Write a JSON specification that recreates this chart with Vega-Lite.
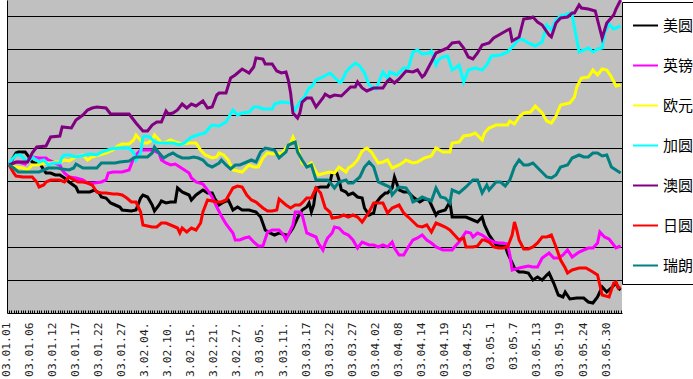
{
"$schema":"https://vega.github.io/schema/vega-lite/v6.json",
"width":615,"height":313,
"autosize":{"type":"none"},
"padding":{"left":7,"top":0,"right":71,"bottom":66},
"background":"white",
"config":{"view":{"fill":"#C0C0C0","stroke":null}},
"data":{"values":[
{"s":"美圆","d":0,"v":148},{"s":"美圆","d":3,"v":160},{"s":"美圆","d":4,"v":161},{"s":"美圆","d":7,"v":161},{"s":"美圆","d":8,"v":158},{"s":"美圆","d":10,"v":151},{"s":"美圆","d":12,"v":149},{"s":"美圆","d":13,"v":151},{"s":"美圆","d":15,"v":143},{"s":"美圆","d":16,"v":140},{"s":"美圆","d":18,"v":140},{"s":"美圆","d":20,"v":138},{"s":"美圆","d":22,"v":138},{"s":"美圆","d":24,"v":135},{"s":"美圆","d":26,"v":131},{"s":"美圆","d":29,"v":126},{"s":"美圆","d":30,"v":121},{"s":"美圆","d":32,"v":121},{"s":"美圆","d":35,"v":121},{"s":"美圆","d":37,"v":123},{"s":"美圆","d":39,"v":120},{"s":"美圆","d":40,"v":116},{"s":"美圆","d":42,"v":115},{"s":"美圆","d":44,"v":110},{"s":"美圆","d":46,"v":108},{"s":"美圆","d":48,"v":106},{"s":"美圆","d":49,"v":103},{"s":"美圆","d":53,"v":102},{"s":"美圆","d":55,"v":103},{"s":"美圆","d":57,"v":115},{"s":"美圆","d":58,"v":118},{"s":"美圆","d":60,"v":116},{"s":"美圆","d":62,"v":108},{"s":"美圆","d":63,"v":102},{"s":"美圆","d":65,"v":108},{"s":"美圆","d":66,"v":112},{"s":"美圆","d":68,"v":110},{"s":"美圆","d":70,"v":111},{"s":"美圆","d":72,"v":111},{"s":"美圆","d":73,"v":125},{"s":"美圆","d":75,"v":121},{"s":"美圆","d":76,"v":120},{"s":"美圆","d":78,"v":118},{"s":"美圆","d":79,"v":113},{"s":"美圆","d":81,"v":118},{"s":"美圆","d":84,"v":123},{"s":"美圆","d":86,"v":120},{"s":"美圆","d":88,"v":120},{"s":"美圆","d":89,"v":115},{"s":"美圆","d":91,"v":108},{"s":"美圆","d":93,"v":111},{"s":"美圆","d":95,"v":113},{"s":"美圆","d":97,"v":103},{"s":"美圆","d":99,"v":106},{"s":"美圆","d":101,"v":103},{"s":"美圆","d":104,"v":103},{"s":"美圆","d":107,"v":101},{"s":"美圆","d":109,"v":96},{"s":"美圆","d":111,"v":83},{"s":"美圆","d":113,"v":80},{"s":"美圆","d":115,"v":78},{"s":"美圆","d":117,"v":80},{"s":"美圆","d":120,"v":78},{"s":"美圆","d":121,"v":78},{"s":"美圆","d":123,"v":85},{"s":"美圆","d":125,"v":95},{"s":"美圆","d":127,"v":103},{"s":"美圆","d":129,"v":106},{"s":"美圆","d":130,"v":110},{"s":"美圆","d":131,"v":101},{"s":"美圆","d":132,"v":108},{"s":"美圆","d":133,"v":125},{"s":"美圆","d":135,"v":126},{"s":"美圆","d":138,"v":126},{"s":"美圆","d":139,"v":130},{"s":"美圆","d":140,"v":140},{"s":"美圆","d":142,"v":140},{"s":"美圆","d":143,"v":133},{"s":"美圆","d":144,"v":123},{"s":"美圆","d":146,"v":121},{"s":"美圆","d":147,"v":118},{"s":"美圆","d":149,"v":120},{"s":"美圆","d":150,"v":118},{"s":"美圆","d":151,"v":116},{"s":"美圆","d":153,"v":115},{"s":"美圆","d":154,"v":105},{"s":"美圆","d":156,"v":98},{"s":"美圆","d":158,"v":100},{"s":"美圆","d":159,"v":110},{"s":"美圆","d":161,"v":116},{"s":"美圆","d":163,"v":120},{"s":"美圆","d":164,"v":120},{"s":"美圆","d":166,"v":125},{"s":"美圆","d":167,"v":136},{"s":"美圆","d":169,"v":123},{"s":"美圆","d":171,"v":121},{"s":"美圆","d":173,"v":121},{"s":"美圆","d":175,"v":116},{"s":"美圆","d":178,"v":111},{"s":"美圆","d":180,"v":114},{"s":"美圆","d":182,"v":113},{"s":"美圆","d":185,"v":98},{"s":"美圆","d":186,"v":101},{"s":"美圆","d":189,"v":103},{"s":"美圆","d":191,"v":111},{"s":"美圆","d":192,"v":96},{"s":"美圆","d":195,"v":96},{"s":"美圆","d":198,"v":96},{"s":"美圆","d":201,"v":93},{"s":"美圆","d":203,"v":91},{"s":"美圆","d":205,"v":96},{"s":"美圆","d":206,"v":88},{"s":"美圆","d":208,"v":78},{"s":"美圆","d":209,"v":75},{"s":"美圆","d":211,"v":68},{"s":"美圆","d":213,"v":67},{"s":"美圆","d":215,"v":67},{"s":"美圆","d":216,"v":60},{"s":"美圆","d":218,"v":50},{"s":"美圆","d":219,"v":45},{"s":"美圆","d":221,"v":41},{"s":"美圆","d":223,"v":41},{"s":"美圆","d":225,"v":40},{"s":"美圆","d":227,"v":33},{"s":"美圆","d":229,"v":36},{"s":"美圆","d":231,"v":33},{"s":"美圆","d":233,"v":38},{"s":"美圆","d":234,"v":40},{"s":"美圆","d":236,"v":30},{"s":"美圆","d":238,"v":18},{"s":"美圆","d":240,"v":16},{"s":"美圆","d":241,"v":21},{"s":"美圆","d":243,"v":14},{"s":"美圆","d":246,"v":15},{"s":"美圆","d":249,"v":15},{"s":"美圆","d":251,"v":11},{"s":"美圆","d":253,"v":10},{"s":"美圆","d":255,"v":16},{"s":"美圆","d":257,"v":26},{"s":"美圆","d":259,"v":21},{"s":"美圆","d":261,"v":25},{"s":"美圆","d":263,"v":30},{"s":"美圆","d":264,"v":25},{"s":"美圆","d":265,"v":23},
{"s":"英镑","d":0,"v":148},{"s":"英镑","d":2,"v":150},{"s":"英镑","d":4,"v":151},{"s":"英镑","d":7,"v":149},{"s":"英镑","d":9,"v":155},{"s":"英镑","d":10,"v":156},{"s":"英镑","d":13,"v":155},{"s":"英镑","d":16,"v":155},{"s":"英镑","d":17,"v":153},{"s":"英镑","d":20,"v":150},{"s":"英镑","d":22,"v":148},{"s":"英镑","d":23,"v":143},{"s":"英镑","d":24,"v":140},{"s":"英镑","d":26,"v":136},{"s":"英镑","d":29,"v":135},{"s":"英镑","d":32,"v":133},{"s":"英镑","d":34,"v":130},{"s":"英镑","d":37,"v":130},{"s":"英镑","d":40,"v":131},{"s":"英镑","d":42,"v":133},{"s":"英镑","d":43,"v":140},{"s":"英镑","d":45,"v":141},{"s":"英镑","d":49,"v":141},{"s":"英镑","d":52,"v":143},{"s":"英镑","d":54,"v":155},{"s":"英镑","d":55,"v":158},{"s":"英镑","d":57,"v":163},{"s":"英镑","d":60,"v":163},{"s":"英镑","d":62,"v":163},{"s":"英镑","d":65,"v":160},{"s":"英镑","d":66,"v":153},{"s":"英镑","d":68,"v":150},{"s":"英镑","d":70,"v":148},{"s":"英镑","d":72,"v":149},{"s":"英镑","d":74,"v":146},{"s":"英镑","d":76,"v":143},{"s":"英镑","d":78,"v":140},{"s":"英镑","d":79,"v":135},{"s":"英镑","d":81,"v":131},{"s":"英镑","d":84,"v":129},{"s":"英镑","d":86,"v":123},{"s":"英镑","d":88,"v":116},{"s":"英镑","d":90,"v":106},{"s":"英镑","d":92,"v":97},{"s":"英镑","d":94,"v":89},{"s":"英镑","d":97,"v":80},{"s":"英镑","d":98,"v":73},{"s":"英镑","d":100,"v":73},{"s":"英镑","d":102,"v":75},{"s":"英镑","d":104,"v":76},{"s":"英镑","d":106,"v":71},{"s":"英镑","d":108,"v":67},{"s":"英镑","d":110,"v":67},{"s":"英镑","d":112,"v":81},{"s":"英镑","d":114,"v":83},{"s":"英镑","d":117,"v":83},{"s":"英镑","d":119,"v":78},{"s":"英镑","d":120,"v":73},{"s":"英镑","d":123,"v":88},{"s":"英镑","d":124,"v":101},{"s":"英镑","d":126,"v":101},{"s":"英镑","d":127,"v":98},{"s":"英镑","d":129,"v":80},{"s":"英镑","d":131,"v":78},{"s":"英镑","d":133,"v":76},{"s":"英镑","d":134,"v":70},{"s":"英镑","d":136,"v":63},{"s":"英镑","d":137,"v":70},{"s":"英镑","d":138,"v":75},{"s":"英镑","d":140,"v":80},{"s":"英镑","d":141,"v":86},{"s":"英镑","d":143,"v":85},{"s":"英镑","d":145,"v":80},{"s":"英镑","d":147,"v":78},{"s":"英镑","d":149,"v":73},{"s":"英镑","d":151,"v":65},{"s":"英镑","d":153,"v":71},{"s":"英镑","d":156,"v":68},{"s":"英镑","d":158,"v":68},{"s":"英镑","d":160,"v":66},{"s":"英镑","d":162,"v":68},{"s":"英镑","d":164,"v":66},{"s":"英镑","d":166,"v":71},{"s":"英镑","d":167,"v":65},{"s":"英镑","d":169,"v":58},{"s":"英镑","d":171,"v":58},{"s":"英镑","d":173,"v":66},{"s":"英镑","d":175,"v":73},{"s":"英镑","d":177,"v":75},{"s":"英镑","d":179,"v":78},{"s":"英镑","d":181,"v":73},{"s":"英镑","d":183,"v":70},{"s":"英镑","d":185,"v":66},{"s":"英镑","d":188,"v":63},{"s":"英镑","d":190,"v":63},{"s":"英镑","d":192,"v":63},{"s":"英镑","d":193,"v":66},{"s":"英镑","d":195,"v":71},{"s":"英镑","d":198,"v":81},{"s":"英镑","d":200,"v":80},{"s":"英镑","d":201,"v":76},{"s":"英镑","d":203,"v":80},{"s":"英镑","d":205,"v":78},{"s":"英镑","d":208,"v":73},{"s":"英镑","d":210,"v":71},{"s":"英镑","d":212,"v":70},{"s":"英镑","d":214,"v":70},{"s":"英镑","d":216,"v":69},{"s":"英镑","d":217,"v":58},{"s":"英镑","d":218,"v":43},{"s":"英镑","d":221,"v":45},{"s":"英镑","d":223,"v":46},{"s":"英镑","d":225,"v":47},{"s":"英镑","d":227,"v":46},{"s":"英镑","d":229,"v":46},{"s":"英镑","d":231,"v":55},{"s":"英镑","d":234,"v":60},{"s":"英镑","d":236,"v":55},{"s":"英镑","d":238,"v":55},{"s":"英镑","d":240,"v":58},{"s":"英镑","d":242,"v":63},{"s":"英镑","d":244,"v":56},{"s":"英镑","d":247,"v":61},{"s":"英镑","d":249,"v":63},{"s":"英镑","d":251,"v":65},{"s":"英镑","d":253,"v":65},{"s":"英镑","d":255,"v":70},{"s":"英镑","d":256,"v":81},{"s":"英镑","d":258,"v":76},{"s":"英镑","d":260,"v":74},{"s":"英镑","d":263,"v":65},{"s":"英镑","d":265,"v":67},
{"s":"欧元","d":0,"v":148},{"s":"欧元","d":3,"v":146},{"s":"欧元","d":6,"v":145},{"s":"欧元","d":8,"v":143},{"s":"欧元","d":10,"v":148},{"s":"欧元","d":12,"v":148},{"s":"欧元","d":16,"v":150},{"s":"欧元","d":18,"v":150},{"s":"欧元","d":20,"v":151},{"s":"欧元","d":22,"v":151},{"s":"欧元","d":24,"v":153},{"s":"欧元","d":26,"v":152},{"s":"欧元","d":29,"v":156},{"s":"欧元","d":32,"v":158},{"s":"欧元","d":34,"v":153},{"s":"欧元","d":36,"v":156},{"s":"欧元","d":39,"v":158},{"s":"欧元","d":42,"v":160},{"s":"欧元","d":45,"v":163},{"s":"欧元","d":47,"v":167},{"s":"欧元","d":49,"v":169},{"s":"欧元","d":52,"v":169},{"s":"欧元","d":54,"v":173},{"s":"欧元","d":55,"v":178},{"s":"欧元","d":58,"v":170},{"s":"欧元","d":60,"v":170},{"s":"欧元","d":62,"v":173},{"s":"欧元","d":63,"v":178},{"s":"欧元","d":65,"v":173},{"s":"欧元","d":66,"v":170},{"s":"欧元","d":68,"v":171},{"s":"欧元","d":70,"v":173},{"s":"欧元","d":72,"v":171},{"s":"欧元","d":75,"v":169},{"s":"欧元","d":78,"v":170},{"s":"欧元","d":81,"v":170},{"s":"欧元","d":83,"v":163},{"s":"欧元","d":85,"v":158},{"s":"欧元","d":88,"v":155},{"s":"欧元","d":90,"v":156},{"s":"欧元","d":91,"v":160},{"s":"欧元","d":93,"v":158},{"s":"欧元","d":95,"v":153},{"s":"欧元","d":97,"v":143},{"s":"欧元","d":99,"v":142},{"s":"欧元","d":101,"v":141},{"s":"欧元","d":104,"v":148},{"s":"欧元","d":106,"v":146},{"s":"欧元","d":108,"v":146},{"s":"欧元","d":110,"v":155},{"s":"欧元","d":112,"v":160},{"s":"欧元","d":114,"v":159},{"s":"欧元","d":117,"v":160},{"s":"欧元","d":118,"v":159},{"s":"欧元","d":120,"v":165},{"s":"欧元","d":122,"v":170},{"s":"欧元","d":123,"v":176},{"s":"欧元","d":125,"v":166},{"s":"欧元","d":126,"v":158},{"s":"欧元","d":127,"v":150},{"s":"欧元","d":129,"v":147},{"s":"欧元","d":131,"v":150},{"s":"欧元","d":133,"v":141},{"s":"欧元","d":134,"v":138},{"s":"欧元","d":137,"v":140},{"s":"欧元","d":139,"v":141},{"s":"欧元","d":141,"v":140},{"s":"欧元","d":143,"v":146},{"s":"欧元","d":146,"v":141},{"s":"欧元","d":147,"v":145},{"s":"欧元","d":149,"v":148},{"s":"欧元","d":151,"v":153},{"s":"欧元","d":153,"v":162},{"s":"欧元","d":155,"v":165},{"s":"欧元","d":157,"v":161},{"s":"欧元","d":160,"v":150},{"s":"欧元","d":162,"v":151},{"s":"欧元","d":164,"v":153},{"s":"欧元","d":166,"v":145},{"s":"欧元","d":169,"v":148},{"s":"欧元","d":171,"v":151},{"s":"欧元","d":172,"v":153},{"s":"欧元","d":175,"v":150},{"s":"欧元","d":177,"v":151},{"s":"欧元","d":180,"v":155},{"s":"欧元","d":183,"v":157},{"s":"欧元","d":185,"v":165},{"s":"欧元","d":188,"v":161},{"s":"欧元","d":191,"v":161},{"s":"欧元","d":192,"v":170},{"s":"欧元","d":195,"v":171},{"s":"欧元","d":197,"v":177},{"s":"欧元","d":200,"v":178},{"s":"欧元","d":202,"v":180},{"s":"欧元","d":205,"v":173},{"s":"欧元","d":206,"v":180},{"s":"欧元","d":208,"v":185},{"s":"欧元","d":211,"v":188},{"s":"欧元","d":216,"v":188},{"s":"欧元","d":217,"v":192},{"s":"欧元","d":219,"v":189},{"s":"欧元","d":221,"v":196},{"s":"欧元","d":223,"v":200},{"s":"欧元","d":226,"v":201},{"s":"欧元","d":228,"v":207},{"s":"欧元","d":231,"v":200},{"s":"欧元","d":233,"v":192},{"s":"欧元","d":235,"v":190},{"s":"欧元","d":237,"v":197},{"s":"欧元","d":239,"v":208},{"s":"欧元","d":241,"v":209},{"s":"欧元","d":243,"v":210},{"s":"欧元","d":245,"v":216},{"s":"欧元","d":246,"v":226},{"s":"欧元","d":248,"v":235},{"s":"欧元","d":251,"v":236},{"s":"欧元","d":253,"v":243},{"s":"欧元","d":255,"v":238},{"s":"欧元","d":257,"v":244},{"s":"欧元","d":259,"v":243},{"s":"欧元","d":261,"v":236},{"s":"欧元","d":263,"v":227},{"s":"欧元","d":265,"v":228},
{"s":"加圆","d":0,"v":148},{"s":"加圆","d":1,"v":153},{"s":"加圆","d":3,"v":158},{"s":"加圆","d":5,"v":158},{"s":"加圆","d":7,"v":153},{"s":"加圆","d":9,"v":153},{"s":"加圆","d":10,"v":156},{"s":"加圆","d":13,"v":151},{"s":"加圆","d":15,"v":153},{"s":"加圆","d":17,"v":148},{"s":"加圆","d":19,"v":150},{"s":"加圆","d":22,"v":150},{"s":"加圆","d":23,"v":156},{"s":"加圆","d":24,"v":158},{"s":"加圆","d":26,"v":158},{"s":"加圆","d":29,"v":156},{"s":"加圆","d":31,"v":157},{"s":"加圆","d":33,"v":158},{"s":"加圆","d":35,"v":159},{"s":"加圆","d":38,"v":158},{"s":"加圆","d":40,"v":161},{"s":"加圆","d":44,"v":164},{"s":"加圆","d":47,"v":165},{"s":"加圆","d":52,"v":165},{"s":"加圆","d":54,"v":160},{"s":"加圆","d":55,"v":153},{"s":"加圆","d":57,"v":160},{"s":"加圆","d":58,"v":176},{"s":"加圆","d":59,"v":177},{"s":"加圆","d":61,"v":176},{"s":"加圆","d":63,"v":171},{"s":"加圆","d":65,"v":170},{"s":"加圆","d":68,"v":170},{"s":"加圆","d":71,"v":170},{"s":"加圆","d":74,"v":168},{"s":"加圆","d":76,"v":170},{"s":"加圆","d":79,"v":176},{"s":"加圆","d":83,"v":179},{"s":"加圆","d":85,"v":180},{"s":"加圆","d":87,"v":186},{"s":"加圆","d":88,"v":188},{"s":"加圆","d":91,"v":187},{"s":"加圆","d":94,"v":191},{"s":"加圆","d":95,"v":195},{"s":"加圆","d":97,"v":203},{"s":"加圆","d":99,"v":198},{"s":"加圆","d":101,"v":200},{"s":"加圆","d":104,"v":201},{"s":"加圆","d":106,"v":206},{"s":"加圆","d":108,"v":206},{"s":"加圆","d":110,"v":204},{"s":"加圆","d":114,"v":204},{"s":"加圆","d":115,"v":209},{"s":"加圆","d":118,"v":211},{"s":"加圆","d":122,"v":210},{"s":"加圆","d":124,"v":203},{"s":"加圆","d":126,"v":211},{"s":"加圆","d":128,"v":216},{"s":"加圆","d":130,"v":225},{"s":"加圆","d":131,"v":226},{"s":"加圆","d":133,"v":233},{"s":"加圆","d":136,"v":236},{"s":"加圆","d":139,"v":240},{"s":"加圆","d":140,"v":238},{"s":"加圆","d":143,"v":231},{"s":"加圆","d":144,"v":231},{"s":"加圆","d":146,"v":241},{"s":"加圆","d":148,"v":246},{"s":"加圆","d":150,"v":250},{"s":"加圆","d":152,"v":247},{"s":"加圆","d":154,"v":240},{"s":"加圆","d":156,"v":228},{"s":"加圆","d":158,"v":225},{"s":"加圆","d":159,"v":224},{"s":"加圆","d":162,"v":241},{"s":"加圆","d":164,"v":235},{"s":"加圆","d":165,"v":241},{"s":"加圆","d":168,"v":238},{"s":"加圆","d":171,"v":245},{"s":"加圆","d":173,"v":245},{"s":"加圆","d":175,"v":261},{"s":"加圆","d":177,"v":263},{"s":"加圆","d":179,"v":259},{"s":"加圆","d":182,"v":260},{"s":"加圆","d":183,"v":262},{"s":"加圆","d":185,"v":248},{"s":"加圆","d":186,"v":253},{"s":"加圆","d":188,"v":256},{"s":"加圆","d":190,"v":257},{"s":"加圆","d":192,"v":243},{"s":"加圆","d":194,"v":246},{"s":"加圆","d":195,"v":248},{"s":"加圆","d":197,"v":231},{"s":"加圆","d":199,"v":243},{"s":"加圆","d":202,"v":245},{"s":"加圆","d":205,"v":243},{"s":"加圆","d":207,"v":248},{"s":"加圆","d":209,"v":257},{"s":"加圆","d":213,"v":258},{"s":"加圆","d":216,"v":261},{"s":"加圆","d":218,"v":266},{"s":"加圆","d":221,"v":274},{"s":"加圆","d":223,"v":273},{"s":"加圆","d":225,"v":270},{"s":"加圆","d":228,"v":267},{"s":"加圆","d":231,"v":271},{"s":"加圆","d":233,"v":288},{"s":"加圆","d":235,"v":283},{"s":"加圆","d":237,"v":293},{"s":"加圆","d":239,"v":297},{"s":"加圆","d":241,"v":298},{"s":"加圆","d":243,"v":300},{"s":"加圆","d":244,"v":298},{"s":"加圆","d":247,"v":261},{"s":"加圆","d":249,"v":263},{"s":"加圆","d":251,"v":265},{"s":"加圆","d":253,"v":261},{"s":"加圆","d":255,"v":264},{"s":"加圆","d":257,"v":265},{"s":"加圆","d":258,"v":280},{"s":"加圆","d":260,"v":289},{"s":"加圆","d":262,"v":284},{"s":"加圆","d":265,"v":287},
{"s":"澳圆","d":0,"v":148},{"s":"澳圆","d":3,"v":151},{"s":"澳圆","d":8,"v":151},{"s":"澳圆","d":9,"v":155},{"s":"澳圆","d":10,"v":160},{"s":"澳圆","d":12,"v":166},{"s":"澳圆","d":16,"v":167},{"s":"澳圆","d":18,"v":176},{"s":"澳圆","d":22,"v":177},{"s":"澳圆","d":23,"v":186},{"s":"澳圆","d":27,"v":185},{"s":"澳圆","d":29,"v":193},{"s":"澳圆","d":32,"v":198},{"s":"澳圆","d":34,"v":203},{"s":"澳圆","d":36,"v":205},{"s":"澳圆","d":38,"v":206},{"s":"澳圆","d":42,"v":205},{"s":"澳圆","d":44,"v":199},{"s":"澳圆","d":52,"v":199},{"s":"澳圆","d":53,"v":196},{"s":"澳圆","d":55,"v":190},{"s":"澳圆","d":58,"v":182},{"s":"澳圆","d":60,"v":182},{"s":"澳圆","d":62,"v":188},{"s":"澳圆","d":64,"v":191},{"s":"澳圆","d":66,"v":191},{"s":"澳圆","d":68,"v":202},{"s":"澳圆","d":69,"v":199},{"s":"澳圆","d":71,"v":200},{"s":"澳圆","d":73,"v":203},{"s":"澳圆","d":75,"v":209},{"s":"澳圆","d":77,"v":205},{"s":"澳圆","d":79,"v":209},{"s":"澳圆","d":81,"v":207},{"s":"澳圆","d":84,"v":212},{"s":"澳圆","d":86,"v":205},{"s":"澳圆","d":88,"v":206},{"s":"澳圆","d":90,"v":218},{"s":"澳圆","d":91,"v":220},{"s":"澳圆","d":94,"v":220},{"s":"澳圆","d":96,"v":235},{"s":"澳圆","d":98,"v":238},{"s":"澳圆","d":101,"v":244},{"s":"澳圆","d":104,"v":240},{"s":"澳圆","d":106,"v":246},{"s":"澳圆","d":107,"v":255},{"s":"澳圆","d":110,"v":254},{"s":"澳圆","d":111,"v":249},{"s":"澳圆","d":114,"v":249},{"s":"澳圆","d":116,"v":242},{"s":"澳圆","d":118,"v":240},{"s":"澳圆","d":120,"v":241},{"s":"澳圆","d":121,"v":233},{"s":"澳圆","d":122,"v":220},{"s":"澳圆","d":123,"v":200},{"s":"澳圆","d":125,"v":195},{"s":"澳圆","d":126,"v":200},{"s":"澳圆","d":127,"v":211},{"s":"澳圆","d":129,"v":215},{"s":"澳圆","d":131,"v":215},{"s":"澳圆","d":133,"v":206},{"s":"澳圆","d":136,"v":215},{"s":"澳圆","d":137,"v":219},{"s":"澳圆","d":139,"v":216},{"s":"澳圆","d":141,"v":218},{"s":"澳圆","d":144,"v":217},{"s":"澳圆","d":148,"v":226},{"s":"澳圆","d":150,"v":226},{"s":"澳圆","d":151,"v":231},{"s":"澳圆","d":153,"v":225},{"s":"澳圆","d":155,"v":222},{"s":"澳圆","d":158,"v":225},{"s":"澳圆","d":162,"v":225},{"s":"澳圆","d":164,"v":232},{"s":"澳圆","d":165,"v":234},{"s":"澳圆","d":167,"v":230},{"s":"澳圆","d":169,"v":234},{"s":"澳圆","d":172,"v":242},{"s":"澳圆","d":175,"v":241},{"s":"澳圆","d":177,"v":243},{"s":"澳圆","d":179,"v":236},{"s":"澳圆","d":180,"v":238},{"s":"澳圆","d":183,"v":251},{"s":"澳圆","d":185,"v":260},{"s":"澳圆","d":188,"v":263},{"s":"澳圆","d":190,"v":265},{"s":"澳圆","d":192,"v":270},{"s":"澳圆","d":195,"v":271},{"s":"澳圆","d":197,"v":265},{"s":"澳圆","d":199,"v":256},{"s":"澳圆","d":201,"v":254},{"s":"澳圆","d":203,"v":260},{"s":"澳圆","d":205,"v":268},{"s":"澳圆","d":208,"v":270},{"s":"澳圆","d":210,"v":275},{"s":"澳圆","d":213,"v":279},{"s":"澳圆","d":216,"v":283},{"s":"澳圆","d":217,"v":284},{"s":"澳圆","d":218,"v":272},{"s":"澳圆","d":221,"v":276},{"s":"澳圆","d":223,"v":294},{"s":"澳圆","d":226,"v":295},{"s":"澳圆","d":227,"v":296},{"s":"澳圆","d":229,"v":291},{"s":"澳圆","d":231,"v":288},{"s":"澳圆","d":234,"v":278},{"s":"澳圆","d":235,"v":276},{"s":"澳圆","d":237,"v":290},{"s":"澳圆","d":239,"v":295},{"s":"澳圆","d":242,"v":296},{"s":"澳圆","d":244,"v":300},{"s":"澳圆","d":245,"v":300},{"s":"澳圆","d":247,"v":308},{"s":"澳圆","d":248,"v":305},{"s":"澳圆","d":251,"v":304},{"s":"澳圆","d":254,"v":302},{"s":"澳圆","d":255,"v":293},{"s":"澳圆","d":257,"v":275},{"s":"澳圆","d":259,"v":290},{"s":"澳圆","d":262,"v":298},{"s":"澳圆","d":263,"v":304},{"s":"澳圆","d":265,"v":313},
{"s":"日圆","d":0,"v":148},{"s":"日圆","d":2,"v":140},{"s":"日圆","d":3,"v":137},{"s":"日圆","d":6,"v":136},{"s":"日圆","d":8,"v":136},{"s":"日圆","d":10,"v":136},{"s":"日圆","d":12,"v":131},{"s":"日圆","d":13,"v":126},{"s":"日圆","d":15,"v":128},{"s":"日圆","d":16,"v":131},{"s":"日圆","d":18,"v":133},{"s":"日圆","d":20,"v":133},{"s":"日圆","d":22,"v":133},{"s":"日圆","d":24,"v":131},{"s":"日圆","d":26,"v":136},{"s":"日圆","d":28,"v":133},{"s":"日圆","d":30,"v":131},{"s":"日圆","d":32,"v":131},{"s":"日圆","d":34,"v":130},{"s":"日圆","d":36,"v":128},{"s":"日圆","d":38,"v":121},{"s":"日圆","d":40,"v":120},{"s":"日圆","d":42,"v":120},{"s":"日圆","d":45,"v":119},{"s":"日圆","d":47,"v":119},{"s":"日圆","d":49,"v":118},{"s":"日圆","d":51,"v":115},{"s":"日圆","d":53,"v":111},{"s":"日圆","d":55,"v":111},{"s":"日圆","d":57,"v":101},{"s":"日圆","d":58,"v":88},{"s":"日圆","d":60,"v":87},{"s":"日圆","d":62,"v":86},{"s":"日圆","d":64,"v":86},{"s":"日圆","d":66,"v":90},{"s":"日圆","d":68,"v":90},{"s":"日圆","d":71,"v":87},{"s":"日圆","d":73,"v":85},{"s":"日圆","d":74,"v":80},{"s":"日圆","d":75,"v":85},{"s":"日圆","d":77,"v":81},{"s":"日圆","d":79,"v":85},{"s":"日圆","d":81,"v":83},{"s":"日圆","d":83,"v":90},{"s":"日圆","d":84,"v":101},{"s":"日圆","d":86,"v":113},{"s":"日圆","d":88,"v":112},{"s":"日圆","d":90,"v":111},{"s":"日圆","d":92,"v":111},{"s":"日圆","d":94,"v":113},{"s":"日圆","d":97,"v":125},{"s":"日圆","d":99,"v":127},{"s":"日圆","d":101,"v":126},{"s":"日圆","d":103,"v":118},{"s":"日圆","d":105,"v":113},{"s":"日圆","d":107,"v":111},{"s":"日圆","d":110,"v":105},{"s":"日圆","d":112,"v":102},{"s":"日圆","d":114,"v":102},{"s":"日圆","d":116,"v":103},{"s":"日圆","d":117,"v":114},{"s":"日圆","d":120,"v":108},{"s":"日圆","d":122,"v":105},{"s":"日圆","d":124,"v":108},{"s":"日圆","d":126,"v":108},{"s":"日圆","d":127,"v":110},{"s":"日圆","d":129,"v":115},{"s":"日圆","d":131,"v":115},{"s":"日圆","d":133,"v":125},{"s":"日圆","d":135,"v":120},{"s":"日圆","d":137,"v":105},{"s":"日圆","d":139,"v":101},{"s":"日圆","d":140,"v":95},{"s":"日圆","d":143,"v":96},{"s":"日圆","d":145,"v":98},{"s":"日圆","d":147,"v":96},{"s":"日圆","d":149,"v":98},{"s":"日圆","d":151,"v":96},{"s":"日圆","d":153,"v":91},{"s":"日圆","d":156,"v":101},{"s":"日圆","d":158,"v":110},{"s":"日圆","d":160,"v":110},{"s":"日圆","d":162,"v":110},{"s":"日圆","d":164,"v":100},{"s":"日圆","d":166,"v":105},{"s":"日圆","d":169,"v":108},{"s":"日圆","d":171,"v":100},{"s":"日圆","d":173,"v":96},{"s":"日圆","d":177,"v":87},{"s":"日圆","d":179,"v":86},{"s":"日圆","d":181,"v":88},{"s":"日圆","d":183,"v":81},{"s":"日圆","d":185,"v":90},{"s":"日圆","d":187,"v":88},{"s":"日圆","d":189,"v":86},{"s":"日圆","d":191,"v":83},{"s":"日圆","d":193,"v":78},{"s":"日圆","d":195,"v":73},{"s":"日圆","d":197,"v":75},{"s":"日圆","d":198,"v":66},{"s":"日圆","d":201,"v":66},{"s":"日圆","d":203,"v":67},{"s":"日圆","d":205,"v":73},{"s":"日圆","d":206,"v":73},{"s":"日圆","d":208,"v":71},{"s":"日圆","d":210,"v":66},{"s":"日圆","d":212,"v":65},{"s":"日圆","d":214,"v":65},{"s":"日圆","d":216,"v":66},{"s":"日圆","d":218,"v":78},{"s":"日圆","d":219,"v":91},{"s":"日圆","d":220,"v":83},{"s":"日圆","d":221,"v":73},{"s":"日圆","d":223,"v":64},{"s":"日圆","d":225,"v":64},{"s":"日圆","d":227,"v":66},{"s":"日圆","d":229,"v":70},{"s":"日圆","d":231,"v":76},{"s":"日圆","d":233,"v":76},{"s":"日圆","d":235,"v":78},{"s":"日圆","d":237,"v":66},{"s":"日圆","d":239,"v":53},{"s":"日圆","d":241,"v":45},{"s":"日圆","d":242,"v":40},{"s":"日圆","d":244,"v":43},{"s":"日圆","d":247,"v":45},{"s":"日圆","d":250,"v":45},{"s":"日圆","d":253,"v":41},{"s":"日圆","d":255,"v":38},{"s":"日圆","d":256,"v":28},{"s":"日圆","d":257,"v":18},{"s":"日圆","d":260,"v":16},{"s":"日圆","d":262,"v":30},{"s":"日圆","d":263,"v":31},{"s":"日圆","d":264,"v":25},{"s":"日圆","d":265,"v":26},
{"s":"瑞朗","d":0,"v":148},{"s":"瑞朗","d":2,"v":145},{"s":"瑞朗","d":4,"v":141},{"s":"瑞朗","d":13,"v":141},{"s":"瑞朗","d":15,"v":143},{"s":"瑞朗","d":17,"v":145},{"s":"瑞朗","d":21,"v":145},{"s":"瑞朗","d":23,"v":144},{"s":"瑞朗","d":26,"v":143},{"s":"瑞朗","d":28,"v":145},{"s":"瑞朗","d":29,"v":149},{"s":"瑞朗","d":32,"v":145},{"s":"瑞朗","d":38,"v":145},{"s":"瑞朗","d":40,"v":150},{"s":"瑞朗","d":46,"v":150},{"s":"瑞朗","d":48,"v":151},{"s":"瑞朗","d":52,"v":152},{"s":"瑞朗","d":54,"v":155},{"s":"瑞朗","d":55,"v":156},{"s":"瑞朗","d":60,"v":156},{"s":"瑞朗","d":62,"v":160},{"s":"瑞朗","d":63,"v":166},{"s":"瑞朗","d":65,"v":160},{"s":"瑞朗","d":67,"v":155},{"s":"瑞朗","d":69,"v":158},{"s":"瑞朗","d":71,"v":160},{"s":"瑞朗","d":73,"v":157},{"s":"瑞朗","d":75,"v":155},{"s":"瑞朗","d":78,"v":155},{"s":"瑞朗","d":80,"v":156},{"s":"瑞朗","d":82,"v":155},{"s":"瑞朗","d":84,"v":153},{"s":"瑞朗","d":86,"v":148},{"s":"瑞朗","d":88,"v":146},{"s":"瑞朗","d":91,"v":150},{"s":"瑞朗","d":92,"v":153},{"s":"瑞朗","d":94,"v":148},{"s":"瑞朗","d":96,"v":144},{"s":"瑞朗","d":98,"v":148},{"s":"瑞朗","d":100,"v":148},{"s":"瑞朗","d":103,"v":151},{"s":"瑞朗","d":105,"v":153},{"s":"瑞朗","d":107,"v":151},{"s":"瑞朗","d":109,"v":161},{"s":"瑞朗","d":111,"v":165},{"s":"瑞朗","d":113,"v":164},{"s":"瑞朗","d":115,"v":163},{"s":"瑞朗","d":117,"v":155},{"s":"瑞朗","d":120,"v":161},{"s":"瑞朗","d":121,"v":168},{"s":"瑞朗","d":123,"v":170},{"s":"瑞朗","d":124,"v":171},{"s":"瑞朗","d":125,"v":161},{"s":"瑞朗","d":127,"v":153},{"s":"瑞朗","d":129,"v":146},{"s":"瑞朗","d":131,"v":148},{"s":"瑞朗","d":133,"v":133},{"s":"瑞朗","d":136,"v":133},{"s":"瑞朗","d":138,"v":133},{"s":"瑞朗","d":140,"v":128},{"s":"瑞朗","d":141,"v":125},{"s":"瑞朗","d":143,"v":131},{"s":"瑞朗","d":146,"v":133},{"s":"瑞朗","d":147,"v":130},{"s":"瑞朗","d":149,"v":130},{"s":"瑞朗","d":152,"v":136},{"s":"瑞朗","d":154,"v":146},{"s":"瑞朗","d":156,"v":151},{"s":"瑞朗","d":158,"v":146},{"s":"瑞朗","d":160,"v":131},{"s":"瑞朗","d":163,"v":128},{"s":"瑞朗","d":165,"v":126},{"s":"瑞朗","d":166,"v":118},{"s":"瑞朗","d":169,"v":126},{"s":"瑞朗","d":172,"v":125},{"s":"瑞朗","d":174,"v":118},{"s":"瑞朗","d":175,"v":111},{"s":"瑞朗","d":177,"v":113},{"s":"瑞朗","d":179,"v":116},{"s":"瑞朗","d":182,"v":113},{"s":"瑞朗","d":183,"v":112},{"s":"瑞朗","d":185,"v":125},{"s":"瑞朗","d":187,"v":116},{"s":"瑞朗","d":189,"v":115},{"s":"瑞朗","d":191,"v":110},{"s":"瑞朗","d":192,"v":123},{"s":"瑞朗","d":195,"v":120},{"s":"瑞朗","d":198,"v":126},{"s":"瑞朗","d":201,"v":133},{"s":"瑞朗","d":203,"v":133},{"s":"瑞朗","d":205,"v":120},{"s":"瑞朗","d":207,"v":128},{"s":"瑞朗","d":208,"v":123},{"s":"瑞朗","d":211,"v":131},{"s":"瑞朗","d":213,"v":131},{"s":"瑞朗","d":215,"v":127},{"s":"瑞朗","d":217,"v":133},{"s":"瑞朗","d":219,"v":146},{"s":"瑞朗","d":221,"v":153},{"s":"瑞朗","d":223,"v":148},{"s":"瑞朗","d":225,"v":148},{"s":"瑞朗","d":227,"v":150},{"s":"瑞朗","d":230,"v":143},{"s":"瑞朗","d":233,"v":136},{"s":"瑞朗","d":235,"v":135},{"s":"瑞朗","d":237,"v":138},{"s":"瑞朗","d":239,"v":146},{"s":"瑞朗","d":242,"v":148},{"s":"瑞朗","d":244,"v":155},{"s":"瑞朗","d":247,"v":158},{"s":"瑞朗","d":249,"v":156},{"s":"瑞朗","d":251,"v":156},{"s":"瑞朗","d":253,"v":160},{"s":"瑞朗","d":255,"v":160},{"s":"瑞朗","d":257,"v":157},{"s":"瑞朗","d":259,"v":158},{"s":"瑞朗","d":261,"v":146},{"s":"瑞朗","d":263,"v":143},{"s":"瑞朗","d":265,"v":140}
]},
"mark":{"type":"line","strokeWidth":3,"clip":true},
"encoding":{
"x":{"field":"d","type":"quantitative","scale":{"domain":[-0.9,265.6],"nice":false,"zero":false},
"axis":{"title":null,"tickCount":270,"grid":false,"labelAngle":-90,"labelOffset":-3,"labelPadding":12,"labelFont":"DejaVu Sans Mono","labelFontSize":11.3,"labelColor":"#202020","labelOverlap":false,"labelBound":false,"labelFlush":false,"tickSize":-3,"tickColor":"black","tickWidth":1,"domainColor":"black","domainWidth":1,
"labelExpr":"datum.value % 10 == 0 ? ['03.01.01','03.01.06','03.01.12','03.01.17','03.01.22','03.01.27','3.02.04.','3.02.10.','3.02.15.','3.02.21.','3.02.27.','3.03.05.','3.03.11.','03.03.17','03.03.22','03.03.27','03.04.02','03.04.08','03.04.14','03.04.19','03.04.25','03.05.1','03.05.7','03.05.13','03.05.19','03.05.24','03.05.30'][datum.value/10] : ''"}},
"y":{"field":"v","type":"quantitative","scale":{"domain":[0,313],"nice":false,"zero":false},
"axis":{"title":null,"labels":false,"ticks":false,"values":[33,66,99,132,165,198,231,264,297],"grid":true,"gridColor":"black","gridOpacity":1,"gridWidth":1,"domainColor":"black","domainWidth":1}},
"color":{"field":"s","type":"nominal","sort":["美圆","英镑","欧元","加圆","澳圆","日圆","瑞朗"],
"scale":{"domain":["美圆","英镑","欧元","加圆","澳圆","日圆","瑞朗"],"range":["#000000","#FF00FF","#FFFF00","#00FFFF","#800080","#FF0000","#008080"]},
"legend":{"orient":"none","legendX":615,"legendY":2,"title":null,"strokeColor":"black","fillColor":"white","padding":10,"symbolType":"stroke","symbolSize":625,"symbolStrokeWidth":2,"rowPadding":18,"labelFont":"Noto Sans CJK SC","labelFontSize":15,"labelColor":"black","labelOffset":4}}
}
}
